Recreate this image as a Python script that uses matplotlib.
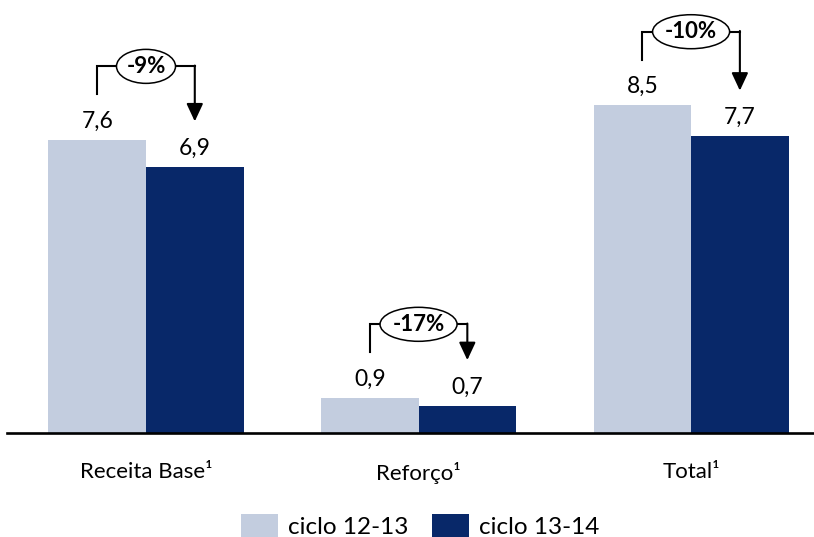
import matplotlib
matplotlib.use("Agg")
import matplotlib.pyplot as plt
from matplotlib.patches import Ellipse
import numpy as np

plt.rcParams['font.family'] = ['Lato', 'DejaVu Sans']

categories = ["Receita Base¹", "Reforço¹", "Total¹"]
series_names = ["ciclo 12-13", "ciclo 13-14"]
ciclo_12_13 = [7.6, 0.9, 8.5]
ciclo_13_14 = [6.9, 0.7, 7.7]
variation_labels = ["-9%", "-17%", "-10%"]

light = "#C3CDDF"
dark = "#082869"

W, H = 814, 537
fig = plt.figure(figsize=(W / 100, H / 100), dpi=100)
ax = fig.add_axes([7 / W, (H - 432.5) / H, 807 / W, 432.5 / H])

x = np.arange(len(categories))
bw = 0.358
ax.bar(x - bw / 2, ciclo_12_13, bw, color=light, label=series_names[0], zorder=2)
ax.bar(x + bw / 2, ciclo_13_14, bw, color=dark, label=series_names[1], zorder=2)

ax.set_xlim(-0.510, 2.451)
ax.set_ylim(0, 432.5 / 38.5)

for s in ["top", "left", "right"]:
    ax.spines[s].set_visible(False)
ax.spines["bottom"].set_linewidth(1.9)
ax.spines["bottom"].set_zorder(3)
ax.set_yticks([])
ax.set_xticks(x, categories, fontsize=16)
ax.tick_params(axis="x", length=0, pad=21)


def fmt(v):
    return f"{v:.1f}".replace(".", ",")


for i in range(len(categories)):
    a, b = ciclo_12_13[i], ciclo_13_14[i]
    xl, xr = x[i] - bw / 2, x[i] + bw / 2
    ax.text(xl, a + 0.31, fmt(a), ha="center", va="baseline", fontsize=16.5)
    ax.text(xr, b + 0.31, fmt(b), ha="center", va="baseline", fontsize=16.5)

    # bracket with arrow from the earlier cycle to the later one
    y_start = a + 1.18
    y_top = y_start + 0.73
    y_tip = b + 1.18
    ax.plot([xl, xl, xr], [y_start, y_top, y_top], color="black", lw=1.5,
            solid_joinstyle="miter", zorder=4)
    ax.annotate("", xy=(xr, y_tip), xytext=(xr, y_top + 0.02),
                arrowprops=dict(arrowstyle="-|>,head_length=0.6,head_width=0.28",
                                mutation_scale=18, lw=1.5, color="black",
                                shrinkA=0, shrinkB=0), zorder=4)
    lab = variation_labels[i]
    ew = (18 * len(lab) + 5) / 272.5
    ax.add_patch(Ellipse((x[i], y_top), ew, 34 / 38.5, facecolor="white",
                         edgecolor="black", lw=1.1, zorder=5))
    ax.text(x[i], y_top, lab, ha="center", va="center", fontsize=16,
            fontweight="bold", zorder=6)

fig.legend(loc="lower center", bbox_to_anchor=(420 / W, -0.02), ncol=2,
           frameon=False, fontsize=17.5, handlelength=1.55, handleheight=1.1,
           handletextpad=0.4, columnspacing=0.95, borderaxespad=0)

fig.savefig("out.png", dpi=100)
